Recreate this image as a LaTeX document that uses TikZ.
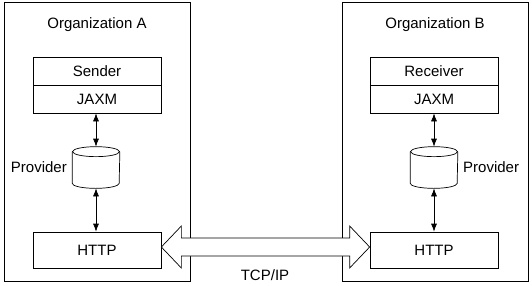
\documentclass[tikz,border=0pt]{standalone}
\usepackage{fontspec}
\setmainfont{Liberation Sans}
\usetikzlibrary{arrows.meta,calc,positioning}

\tikzset{
  layer/.style={draw, minimum width=128pt, minimum height=28pt, inner sep=0pt},
  store/.style={minimum width=47pt, minimum height=41pt, inner sep=0pt},
  link/.style={{Latex[length=8pt,width=6pt]}-{Latex[length=8pt,width=6pt]}}
}
% cylinder round a named node
\newcommand{\drum}[1]{%
  \draw ($(#1.north)+(0,5)$) ellipse[x radius=23.5, y radius=5];
  \draw ($(#1.north west)+(0,5)$) -- ($(#1.south west)+(0,-5)$)
    arc[start angle=180, end angle=0, x radius=23.5, y radius=5]
    -- ($(#1.north east)+(0,5)$);}

\begin{document}
\begin{tikzpicture}[x=1pt,y=-1pt,line width=0.7pt,font=\fontsize{15}{18}\selectfont]
\useasboundingbox (0,0) rectangle (532,285);

% Organization A
\draw (4,2) rectangle (190,281);
\node (orgA) at (97,25) {Organization A};
\node[layer] (sndr) at (97,71) {Sender};
\node[layer] (jaxmA) at (97,99) {JAXM};
\node[store] (provA) at (96,167.5) {};
\drum{provA}
\node[left=5pt of provA, inner sep=0pt] (provlblA) {Provider};
\node[layer, minimum height=36pt] (httpA) at (97,250) {HTTP};
\draw[link] (jaxmA.south -| provA) -- (provA.north);
\draw[link] (provA.south) -- (httpA.north -| provA);

% Organization B
\begin{scope}[xshift=337pt]
\draw (5,2) rectangle (191,281);
\node (orgB) at (98,25) {Organization B};
\node[layer] (rcvr) at (97,71) {Receiver};
\node[layer] (jaxmB) at (97,99) {JAXM};
\node[store] (provB) at (97,167.5) {};
\drum{provB}
\node[right=5pt of provB, inner sep=0pt] (provlblB) {Provider};
\node[layer, minimum height=36pt] (httpB) at (97,250) {HTTP};
\draw[link] (jaxmB.south -| provB) -- (provB.north);
\draw[link] (provB.south) -- (httpB.north -| provB);
\end{scope}

% TCP/IP link
\coordinate (tipA) at ($(httpA.east)+(0,-3)$);
\coordinate (tipB) at ($(httpB.west)+(0,-3)$);
\draw[fill=white] (tipA) -- ($(tipA)+(20,-21)$) -- ($(tipA)+(20,-9)$)
  -- ($(tipB)+(-20,-9)$) -- ($(tipB)+(-20,-21)$) -- (tipB)
  -- ($(tipB)+(-20,21)$) -- ($(tipB)+(-20,9)$)
  -- ($(tipA)+(20,9)$) -- ($(tipA)+(20,21)$) -- cycle;
\node (tcp) at (265,275) {TCP/IP};

\end{tikzpicture}
\end{document}
